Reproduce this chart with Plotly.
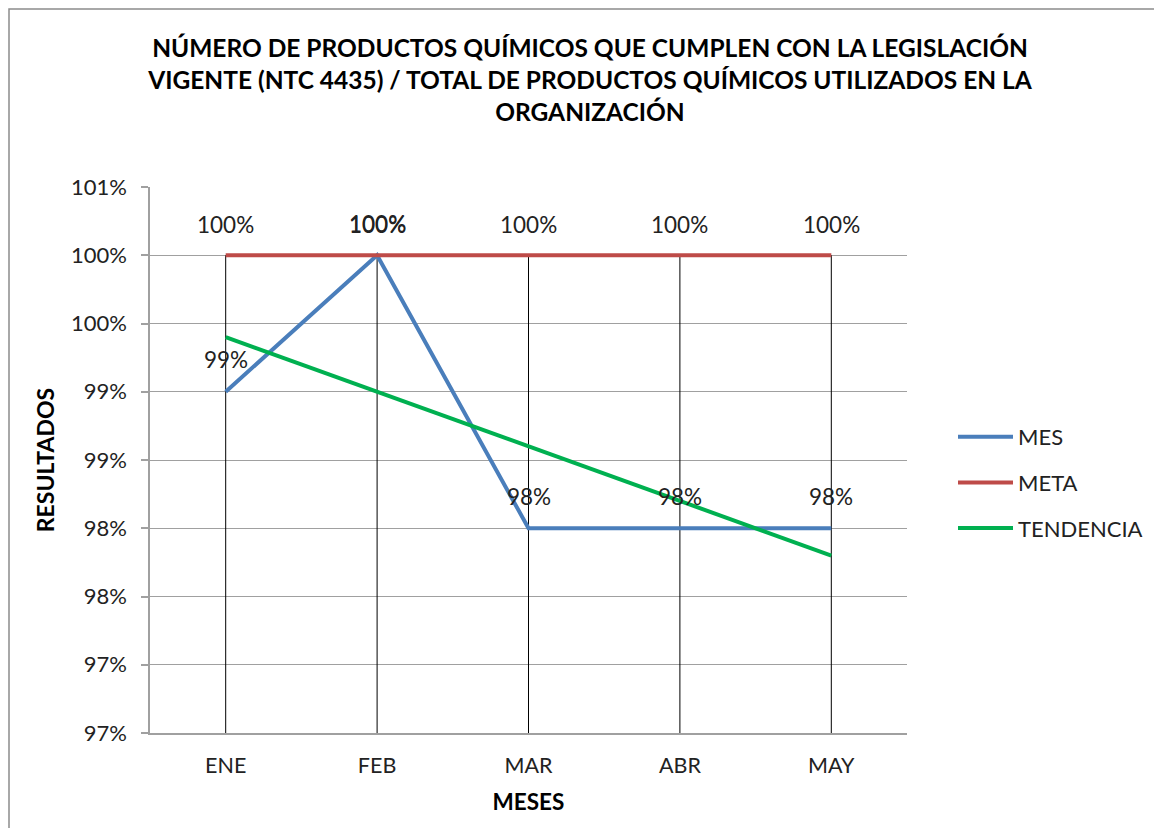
import plotly.graph_objects as go

meses = ["ENE", "FEB", "MAR", "ABR", "MAY"]
mes = [0.99, 1.00, 0.98, 0.98, 0.98]
meta = [1.00, 1.00, 1.00, 1.00, 1.00]
tendencia = [0.994, 0.990, 0.986, 0.982, 0.978]
mes_labels = ["99%", "100%", "98%", "98%", "98%"]
meta_labels = ["100%", "100%", "100%", "100%", "100%"]
y_tickvals = [0.965, 0.970, 0.975, 0.980, 0.985, 0.990, 0.995, 1.000, 1.005]
y_ticktext = ["97%", "97%", "98%", "98%", "99%", "99%", "100%", "100%", "101%"]

FONT = "Lato, 'Open Sans', sans-serif"
ymin, ymax = y_tickvals[0], y_tickvals[-1]

# page body has an 8px margin; compensate so the plot sits where the reference has it
OFF = 8
W, H = 1162 - OFF, 828 - OFF
L, R, T, B = 150 - OFF, 255, 187 - OFF, 95

fig = go.Figure()

dx, dy = [], []
for i, c in enumerate(meses):
    top = max(mes[i], meta[i], tendencia[i])
    dx += [c, c, None]
    dy += [top, ymin, None]
fig.add_trace(go.Scatter(x=dx, y=dy, mode="lines", line=dict(color="black", width=1),
                         showlegend=False, hoverinfo="skip"))

fig.add_trace(go.Scatter(x=meses, y=mes, name="MES", mode="lines",
                         line=dict(color="#4a7ebb", width=4), legendgroup="a"))
fig.add_trace(go.Scatter(x=meses, y=meta, name="META", mode="lines",
                         line=dict(color="#be4b48", width=4), legendgroup="b"))
fig.add_trace(go.Scatter(x=meses, y=tendencia, name="TENDENCIA", mode="lines",
                         line=dict(color="#00b050", width=4), legendgroup="c"))

for i, c in enumerate(meses):
    fig.add_annotation(x=c, y=mes[i], text=mes_labels[i], showarrow=False, yshift=32,
                       font=dict(size=22.5, color="#222", family=FONT))
    fig.add_annotation(x=c, y=meta[i], text=meta_labels[i], showarrow=False, yshift=31,
                       font=dict(size=22.5, color="#222", family=FONT))

fig.add_shape(type="rect", xref="paper", yref="paper",
              x0=(9 - 150) / 757, x1=(1160 - 150) / 757,
              y0=(733 - 840) / 546, y1=(733 - 9) / 546,
              line=dict(color="#8c8c8c", width=1.5), layer="below")

fig.update_layout(
    width=W, height=H,
    margin=dict(l=L, r=R, t=T, b=B),
    paper_bgcolor="white", plot_bgcolor="white",
    font=dict(family=FONT, size=22, color="#222"),
    title=dict(text="<b>NÚMERO DE PRODUCTOS QUÍMICOS QUE CUMPLEN CON LA LEGISLACIÓN<br>"
                    "VIGENTE (NTC 4435) / TOTAL DE PRODUCTOS QUÍMICOS UTILIZADOS EN LA<br>"
                    "ORGANIZACIÓN</b>",
               xref="container", x=(590 - OFF) / W, xanchor="center",
               yref="container", y=1 - (57 - OFF) / H, yanchor="top",
               font=dict(size=24.5, color="black", family=FONT)),
    xaxis=dict(type="category", range=[-0.5, 4.5], showgrid=False,
               showline=True, linecolor="#a0a0a0", linewidth=1.5, ticks="",
               tickfont=dict(size=21.5), ticklabelstandoff=12,
               title=dict(text="<b>MESES</b>", font=dict(size=22.5, color="black"), standoff=18)),
    yaxis=dict(range=[ymin, ymax], tickvals=y_tickvals, ticktext=y_ticktext,
               showgrid=True, gridcolor="#a0a0a0", gridwidth=1,
               showline=True, linecolor="#a0a0a0", linewidth=1.5,
               ticks="outside", ticklen=7, tickcolor="#a0a0a0", tickwidth=1.5,
               tickfont=dict(size=22), ticklabelstandoff=10, zeroline=False,
               title=dict(text="<b>RESULTADOS</b>", font=dict(size=23, color="black"), standoff=10)),
    legend=dict(x=(953 - 150) / 757, y=(733 - 416) / 546, xanchor="left", yanchor="top",
                font=dict(size=22, color="#222"), itemwidth=55, tracegroupgap=14,
                bgcolor="rgba(0,0,0,0)"),
    showlegend=True,
)

fig.write_html("out.html")
